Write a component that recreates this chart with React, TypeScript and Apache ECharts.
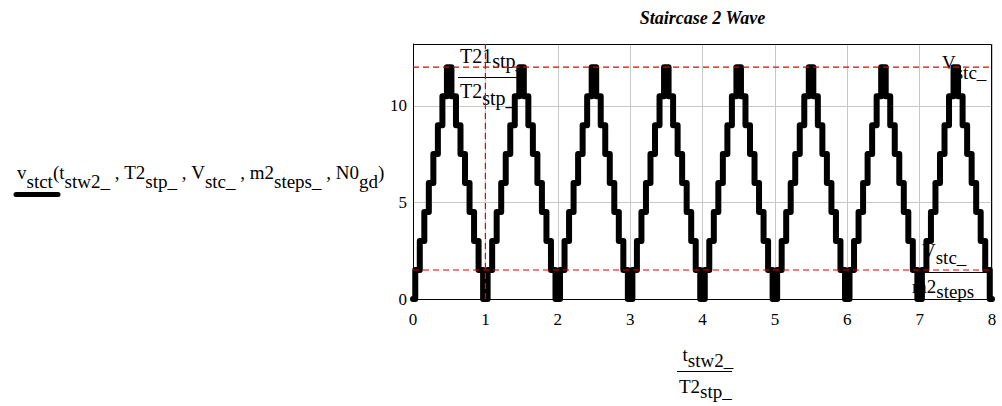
import React, { useEffect, useRef } from "react";
import * as echarts from "echarts";

// ---------- data ----------
const xTickValues = [0, 1, 2, 3, 4, 5, 6, 7, 8];
const yTickValues = [0, 5, 10];
const sampleStep = 1 / 16; // time between stair levels (in units of T2_stp_)
const stairValues = [
  0, 1.5, 3, 4.5, 6, 7.5, 9, 10.5, 12, 10.5, 9, 7.5, 6, 4.5, 3, 1.5,
  0, 1.5, 3, 4.5, 6, 7.5, 9, 10.5, 12, 10.5, 9, 7.5, 6, 4.5, 3, 1.5,
  0, 1.5, 3, 4.5, 6, 7.5, 9, 10.5, 12, 10.5, 9, 7.5, 6, 4.5, 3, 1.5,
  0, 1.5, 3, 4.5, 6, 7.5, 9, 10.5, 12, 10.5, 9, 7.5, 6, 4.5, 3, 1.5,
  0, 1.5, 3, 4.5, 6, 7.5, 9, 10.5, 12, 10.5, 9, 7.5, 6, 4.5, 3, 1.5,
  0, 1.5, 3, 4.5, 6, 7.5, 9, 10.5, 12, 10.5, 9, 7.5, 6, 4.5, 3, 1.5,
  0, 1.5, 3, 4.5, 6, 7.5, 9, 10.5, 12, 10.5, 9, 7.5, 6, 4.5, 3, 1.5,
  0, 1.5, 3, 4.5, 6, 7.5, 9, 10.5, 12, 10.5, 9, 7.5, 6, 4.5, 3, 1.5,
  0,
];
const vPeak = 12; // V_stc_
const vStep = 1.5; // V_stc_ / m2_steps_
const tMarker = 1; // T2_1stp_ / T2_stp_
const xMin = 0;
const xMax = 8;
const yMin = 0;
const yMax = 13.2;

// ---------- layout ----------
const GRID_L = 413;
const GRID_T = 44;
const GRID_R = 992;
const GRID_B = 299;
const W = 1002;
const H = 406;
const FONT = '"Liberation Serif", "Times New Roman", serif';
const RED = "#e60000";

type Part = [string, boolean];

function richLabel(
  x: number,
  baseline: number,
  parts: Part[],
  fs: number,
  shift: number,
  z = 1
) {
  const lh = fs + 6;
  return {
    type: "text",
    x,
    y: baseline - 0.34 * fs,
    z,
    silent: true,
    style: {
      text: parts.map(([t, sub]) => `{${sub ? "s" : "m"}|${t}}`).join(""),
      fill: "#000",
      fontSize: fs,
      fontFamily: FONT,
      align: "left",
      verticalAlign: "middle",
      textAlign: "left",
      textVerticalAlign: "middle",
      rich: {
        m: { fontSize: fs, fontFamily: FONT, lineHeight: lh, fill: "#000" },
        s: {
          fontSize: fs,
          fontFamily: FONT,
          lineHeight: lh,
          fill: "#000",
          padding: [shift * 2, 0, 0, 0],
        },
      },
    },
  };
}

function plainText(
  x: number,
  baseline: number,
  text: string,
  fs: number,
  align = "left",
  extra: any = {}
) {
  return {
    type: "text",
    x,
    y: baseline - 0.34 * fs,
    z: 1,
    silent: true,
    style: {
      text,
      fill: "#000",
      fontSize: fs,
      fontFamily: FONT,
      align,
      textAlign: align,
      verticalAlign: "middle",
      textVerticalAlign: "middle",
      ...extra,
    },
  };
}

function hLine(x1: number, x2: number, y: number, w = 1, cap = "butt") {
  return {
    type: "line",
    z: 1,
    silent: true,
    shape: { x1, y1: y, x2, y2: y },
    style: { stroke: "#000", lineWidth: w, lineCap: cap },
  };
}

export default function App() {
  const ref = useRef<HTMLDivElement>(null);

  useEffect(() => {
    if (!ref.current) return;
    const chart = echarts.init(ref.current, undefined, { renderer: "svg" });

    const waveData = stairValues.map((v, i) => [i * sampleStep, v]);

    const axisLabel = {
      color: "#000",
      fontSize: 17,
      fontFamily: FONT,
    };

    const option: any = {
      animation: false,
      grid: {
        left: GRID_L,
        top: GRID_T,
        width: GRID_R - GRID_L,
        height: GRID_B - GRID_T,
        containLabel: false,
      },
      xAxis: {
        type: "value",
        min: xMin,
        max: xMax,
        interval: 1,
        axisLine: { show: true, lineStyle: { color: "#000", width: 1 } },
        axisTick: { show: false },
        axisLabel: {
          ...axisLabel,
          margin: 12,
          formatter: (v: number) => (xTickValues.includes(v) ? String(v) : ""),
        },
        splitLine: { show: true, lineStyle: { color: "#c8c8c8", width: 1 } },
      },
      yAxis: {
        type: "value",
        min: yMin,
        max: yMax,
        interval: 5,
        axisLine: { show: true, lineStyle: { color: "#000", width: 1 } },
        axisTick: { show: false },
        axisLabel: {
          ...axisLabel,
          margin: 6,
          showMaxLabel: false,
          formatter: (v: number) => (yTickValues.includes(v) ? String(v) : ""),
        },
        splitLine: { show: true, lineStyle: { color: "#c8c8c8", width: 1 } },
      },
      series: [
        {
          type: "line",
          name: "vstct",
          data: waveData,
          step: "middle",
          showSymbol: false,
          symbol: "none",
          z: 3,
          silent: true,
          lineStyle: { color: "#000", width: 6, join: "round", cap: "round" },
        },
        {
          type: "line",
          name: "Vstc",
          data: [
            [xMin, vPeak],
            [xMax, vPeak],
          ],
          symbol: "none",
          z: 4,
          silent: true,
          lineStyle: { color: RED, width: 1.2, type: [6, 4] },
        },
        {
          type: "line",
          name: "Vstep",
          data: [
            [xMin, vStep],
            [xMax, vStep],
          ],
          symbol: "none",
          z: 4,
          silent: true,
          lineStyle: { color: RED, width: 1.2, type: [6, 4] },
        },
        {
          type: "line",
          name: "T2marker",
          data: [
            [tMarker, yMin],
            [tMarker, yMax],
          ],
          symbol: "none",
          z: 4,
          silent: true,
          lineStyle: { color: RED, width: 1.2, type: [6, 4] },
        },
      ],
      graphic: [
        // title
        plainText((GRID_L + GRID_R) / 2, 24, "Staircase 2 Wave", 18, "center", {
          fontWeight: "bold",
          fontStyle: "italic",
        }),
        // left function label
        richLabel(
          17,
          179,
          [
            ["v", false],
            ["stct", true],
            ["(", false],
            ["t", false],
            ["stw2_", true],
            [" , ", false],
            ["T2", false],
            ["stp_", true],
            [" , ", false],
            ["V", false],
            ["stc_", true],
            [" , ", false],
            ["m2", false],
            ["steps_", true],
            [" , ", false],
            ["N0", false],
            ["gd", true],
            [")", false],
          ],
          19,
          9
        ),
        hLine(16, 58, 194.5, 5, "round"),
        // marker label T2_1stp_ / T2_stp_
        richLabel(460, 63, [["T21", false], ["stp_", true]], 20, 5),
        hLine(458, 519, 77.5),
        richLabel(460, 98, [["T2", false], ["stp_", true]], 20, 7),
        // V_stc_ top right
        richLabel(942, 69, [["V", false], ["stc_", true]], 19, 10),
        // V_stc_ / m2_steps_ bottom right
        richLabel(922, 257, [["V", false], ["stc_", true]], 19, 7),
        hLine(912, 985, 272.5),
        richLabel(912, 293, [["m2", false], ["steps_", true]], 19, 5),
        // x axis title t_stw2_ / T2_stp_
        richLabel(682.5, 361, [["t", false], ["stw2_", true]], 19, 6),
        hLine(677, 732, 371.5),
        richLabel(679, 393, [["T2", false], ["stp_", true]], 19, 5),
        // plot frame
        {
          type: "rect",
          z: 2,
          silent: true,
          shape: {
            x: GRID_L + 0.5,
            y: GRID_T + 0.5,
            width: GRID_R - GRID_L - 1,
            height: GRID_B - GRID_T,
          },
          style: { fill: "none", stroke: "#000", lineWidth: 1 },
        },
      ],
    };

    chart.setOption(option);
    return () => chart.dispose();
  }, []);

  return (
    <div
      ref={ref}
      style={{ position: "absolute", left: 0, top: 0, width: W, height: H, background: "#fff" }}
    />
  );
}
